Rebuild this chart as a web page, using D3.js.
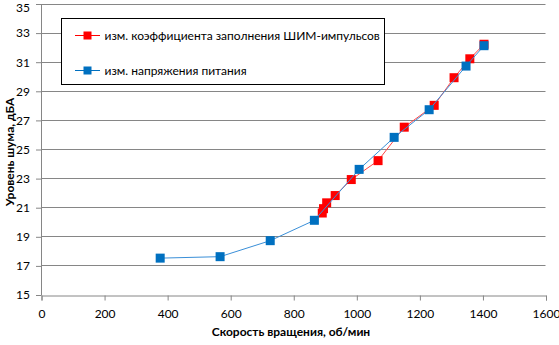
<!DOCTYPE html>
<html><head><meta charset="utf-8">
<script src="https://cdn.jsdelivr.net/npm/d3@7"></script>
<style>body{margin:0;background:#fff}svg{display:block}text{font-family:Lato,"Open Sans",sans-serif}</style>
</head><body><svg id="c" width="559" height="345"></svg>
<script>
const seriesNames = ["изм. коэффициента заполнения ШИМ-импульсов", "изм. напряжения питания"];
const redX = [892, 896, 906, 933, 984, 1069, 1152, 1247, 1310, 1360, 1405];
const redY = [20.6, 20.9, 21.3, 21.8, 22.9, 24.2, 26.5, 28.0, 29.9, 31.2, 32.2];
const blueX = [378, 568, 727, 867, 1009, 1120, 1231, 1348, 1405];
const blueY = [17.5, 17.6, 18.7, 20.1, 23.6, 25.8, 27.7, 30.7, 32.1];
const xTicks = [0, 200, 400, 600, 800, 1000, 1200, 1400, 1600];
const yTicks = [15, 17, 19, 21, 23, 25, 27, 29, 31, 33, 35];
const xTitle = "Скорость вращения, об/мин";
const yTitle = "Уровень шума, дБА";

const svg = d3.select("#c");
const x = d3.scaleLinear().domain([0, 1600]).range([41, 545.5]);
const y = d3.scaleLinear().domain([15, 35]).range([294.5, 3.5]);
const grid = "#868686";

// gridlines
svg.append("g").selectAll("line").data(yTicks.slice(1)).join("line")
  .attr("x1", x(0)).attr("x2", x(1600))
  .attr("y1", d => Math.round(y(d)) + 0.5).attr("y2", d => Math.round(y(d)) + 0.5)
  .attr("stroke", grid).attr("stroke-width", 1);

// axes
const yAxis = svg.append("g").attr("transform", `translate(${x(0)},0.5)`)
  .call(d3.axisLeft(y).tickValues(yTicks).tickSize(5).tickPadding(6).tickFormat(d3.format("d")));
const xAxis = svg.append("g").attr("transform", `translate(0.5,${Math.round(y(15)) + 0.5})`)
  .call(d3.axisBottom(x).tickValues(xTicks).tickSize(5).tickPadding(9).tickFormat(d3.format("d")));
[xAxis, yAxis].forEach(a => {
  a.selectAll("path,line").attr("stroke", grid);
  a.selectAll("text").attr("fill", "#000").style("font-size", "12px").style("font-family", "Lato,'Open Sans',sans-serif");
});
// keep the top label inside the picture
yAxis.selectAll(".tick").filter(d => d === 35).select("text").attr("dy", "0.66em");

// titles
svg.append("text").attr("x", 291).attr("y", 336).attr("text-anchor", "middle")
  .style("font-size", "12px").style("font-weight", "bold").text(xTitle);
svg.append("text").attr("transform", "translate(14,152) rotate(-90)").attr("text-anchor", "middle")
  .style("font-size", "12px").style("font-weight", "bold").text(yTitle);

// series
const series = [
  {xs: redX, ys: redY, color: "#ff0000", line: "#ff4545"},
  {xs: blueX, ys: blueY, color: "#0070c0", line: "#3a8fd8"}
];
const ms = 9;
series.forEach(s => {
  const pts = s.xs.map((v, i) => [v, s.ys[i]]);
  svg.append("path").datum(pts)
    .attr("d", d3.line().x(d => x(d[0])).y(d => y(d[1])))
    .attr("fill", "none").attr("stroke", s.line).attr("stroke-width", 1);
  svg.append("g").selectAll("rect").data(pts).join("rect")
    .attr("x", d => x(d[0]) - ms / 2).attr("y", d => y(d[1]) - ms / 2)
    .attr("width", ms).attr("height", ms).attr("fill", s.color);
});

// legend
const lg = svg.append("g");
lg.append("rect").attr("x", 61.5).attr("y", 18.5).attr("width", 323).attr("height", 66)
  .attr("fill", "#fff").attr("stroke", "#000").attr("stroke-width", 1);
series.forEach((s, i) => {
  const cy = i === 0 ? 35 : 70;
  lg.append("line").attr("x1", 75).attr("x2", 100).attr("y1", cy + 0.5).attr("y2", cy + 0.5)
    .attr("stroke", s.color).attr("stroke-width", 1);
  lg.append("rect").attr("x", 83.5).attr("y", cy - 3.5).attr("width", 8).attr("height", 8).attr("fill", s.color);
  lg.append("text").attr("x", 104.5).attr("y", cy + 4.5).style("font-size", "12px").text(seriesNames[i]);
});
</script></body></html>
